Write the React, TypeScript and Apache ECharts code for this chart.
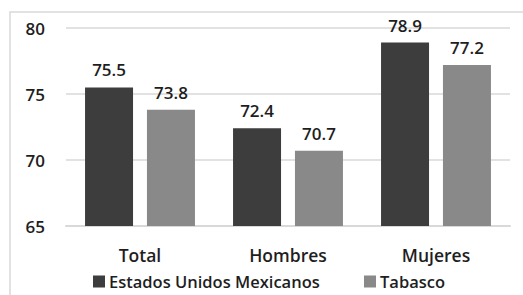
import React, { useEffect, useRef } from "react";
import * as echarts from "echarts";

const categories = ["Total", "Hombres", "Mujeres"];
const mexicoValues = [75.5, 72.4, 78.9];
const tabascoValues = [73.8, 70.7, 77.2];
const seriesNames = ["Estados Unidos Mexicanos", "Tabasco"];

const FONT = "'Open Sans', 'Noto Sans', sans-serif";

export default function App() {
  const ref = useRef<HTMLDivElement>(null);
  useEffect(() => {
    if (!ref.current) return;
    const chart = echarts.init(ref.current, undefined, { renderer: "svg" });
    const label = {
      show: true,
      position: "top" as const,
      distance: 9,
      fontSize: 17,
      fontFamily: FONT,
      fontWeight: 600,
      color: "#1e1e1e",
      formatter: (p: any) => p.value.toFixed(1),
    };
    const legendText = { fontSize: 16.5, fontFamily: FONT, fontWeight: 600, color: "#1e1e1e", padding: [0, 0, 0, -1] };
    chart.setOption({
      animation: false,
      backgroundColor: "#ffffff",
      graphic: [
        {
          type: "rect",
          shape: { x: 10, y: 12, width: 540, height: 320 },
          style: { fill: "none", stroke: "#d9d9d9", lineWidth: 1.5 },
          silent: true,
        },
      ],
      grid: { left: 66, right: 13, top: 28, bottom: 69 },
      legend: [
        {
          data: [seriesNames[0]],
          left: 88,
          top: 268,
          itemWidth: 12,
          itemHeight: 12,
          icon: "rect",
          textStyle: legendText,
        },
        {
          data: [seriesNames[1]],
          left: 359,
          top: 268,
          itemWidth: 12,
          itemHeight: 12,
          icon: "rect",
          textStyle: legendText,
        },
      ],
      xAxis: {
        type: "category",
        data: categories,
        axisLine: { show: true, lineStyle: { color: "#d9d9d9", width: 2 } },
        axisTick: { show: false },
        axisLabel: { fontSize: 17.5, fontFamily: FONT, fontWeight: 600, color: "#1e1e1e", margin: 20 },
      },
      yAxis: {
        type: "value",
        min: 65,
        max: 80,
        interval: 5,
        axisLine: { show: false },
        axisTick: { show: false },
        splitLine: { lineStyle: { color: "#d9d9d9", width: 1.5 } },
        axisLabel: { fontSize: 17, fontFamily: FONT, fontWeight: 600, color: "#1e1e1e", margin: 21 },
      },
      series: [
        {
          name: seriesNames[0],
          type: "bar",
          data: mexicoValues,
          barWidth: 48,
          barGap: "29%",
          itemStyle: { color: "#3d3d3d" },
          label,
        },
        {
          name: seriesNames[1],
          type: "bar",
          data: tabascoValues,
          barWidth: 48,
          itemStyle: { color: "#898989" },
          label,
        },
      ],
    });
    return () => chart.dispose();
  }, []);
  return (
    <div
      ref={ref}
      style={{ position: "fixed", left: 0, top: 0, width: 523, height: 295 }}
    />
  );
}
